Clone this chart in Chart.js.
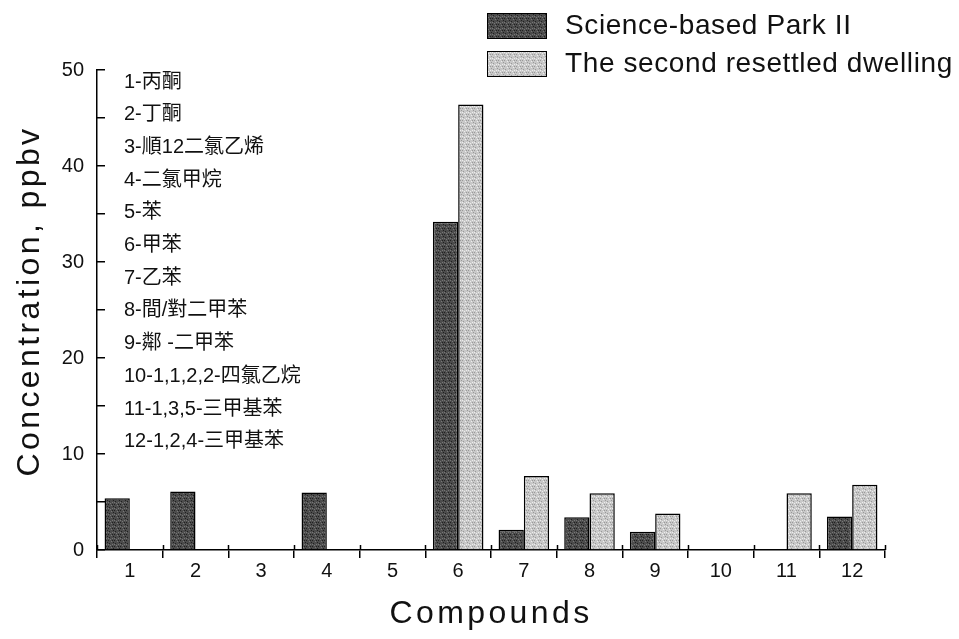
<!DOCTYPE html>
<html>
<head>
<meta charset="utf-8">
<script src="https://cdn.jsdelivr.net/npm/chart.js@4/dist/chart.umd.min.js"></script>
<style>
  html, body { margin: 0; padding: 0; background: #fff; }
  #wrap { width: 959px; height: 639px; }
</style>
</head>
<body>
<div id="wrap"><canvas id="chart" width="959" height="639"></canvas></div>
<script>
const categories = ['1', '2', '3', '4', '5', '6', '7', '8', '9', '10', '11', '12']
// null = not detected (no bar drawn)
const parkValues = [5.4, 6.1, null, 6.0, null, 34.2, 2.1, 3.4, 1.9, null, null, 3.5]
const dwellingValues = [null, null, null, null, null, 46.4, 7.7, 5.9, 3.8, null, 5.9, 6.8]
const seriesLabels = ['Science-based Park II', 'The second resettled dwelling']
const compoundNames = [
    '1-丙酮', '2-丁酮', '3-順12二氯乙烯', '4-二氯甲烷', '5-苯', '6-甲苯',
    '7-乙苯', '8-間/對二甲苯', '9-鄰 -二甲苯', '10-1,1,2,2-四氯乙烷',
    '11-1,3,5-三甲基苯', '12-1,2,4-三甲基苯'
]
const yTicks = [0, 10, 20, 30, 40, 50]
const xTitle = 'Compounds'
const yTitle = 'Concentration, ppbv'

const FONT = '"Liberation Sans", Arial, sans-serif'
const CJK_FONT = '"Liberation Sans", Arial, "Noto Sans CJK TC", sans-serif'

// speckled fill, like the scanned halftone
const makePattern = (base, spots) => {
    const c = document.createElement('canvas')
    c.width = 6
    c.height = 6
    const ctx = c.getContext('2d')
    ctx.fillStyle = base
    ctx.fillRect(0, 0, 6, 6)
    const dots = [[0, 0, 0], [3, 1, 1], [1, 3, 0], [4, 4, 1], [5, 2, 0], [2, 5, 1], [0, 4, 1], [4, 0, 0]]
    dots.forEach(([x, y, k]) => {
        ctx.fillStyle = spots[k]
        ctx.fillRect(x, y, 1, 1)
    })
    return ctx.createPattern(c, 'repeat')
}

const cvs = document.getElementById('chart')
const darkFill = makePattern('#4c4c4c', ['#202020', '#777777'])
const lightFill = makePattern('#c8c8c8', ['#999999', '#ededed'])

const legendPlugin = {
    id: 'boxLegend',
    afterDraw(chart) {
        const {ctx} = chart
        const x0 = chart.width - 472
        chart.data.datasets.forEach((ds, i) => {
            const y = 13 + i * 38
            ctx.save()
            ctx.fillStyle = ds.backgroundColor
            ctx.fillRect(x0, y, 60, 26)
            ctx.strokeStyle = '#000'
            ctx.lineWidth = 1
            ctx.strokeRect(x0 + 0.5, y + 0.5, 59, 25)
            ctx.fillStyle = '#111'
            ctx.font = '28px ' + FONT
            ctx.letterSpacing = '0.6px'
            ctx.textBaseline = 'middle'
            ctx.fillText(ds.label, x0 + 78, y + 13)
            ctx.restore()
        })
    }
}

const namesPlugin = {
    id: 'compoundNames',
    afterDraw(chart) {
        const {ctx, chartArea} = chart
        ctx.save()
        ctx.fillStyle = '#111'
        ctx.font = '20px ' + CJK_FONT
        ctx.textBaseline = 'middle'
        compoundNames.forEach((name, i) => {
            ctx.fillText(name, chartArea.left + 27, chartArea.top + 12 + i * 32.7)
        })
        ctx.restore()
    }
}

// axis titles (wide letter spacing) and the upward half of the x ticks
const axisExtras = {
    id: 'axisExtras',
    afterDraw(chart) {
        const {ctx, chartArea} = chart
        const xs = chart.scales.x
        ctx.save()
        ctx.strokeStyle = '#000'
        ctx.lineWidth = 1.5
        ctx.beginPath()
        for (let i = 0; i <= categories.length; i++) {
            const px = Math.round(xs.getPixelForValue(i - 0.5)) + 0.5
            ctx.moveTo(px, chartArea.bottom - 5)
            ctx.lineTo(px, chartArea.bottom)
        }
        ctx.stroke()

        ctx.fillStyle = '#111'
        ctx.font = '32px ' + FONT
        ctx.letterSpacing = '3.4px'
        ctx.textAlign = 'center'
        ctx.textBaseline = 'middle'
        ctx.fillText(xTitle, (chartArea.left + chartArea.right) / 2, 614)
        ctx.translate(30, (chartArea.top + chartArea.bottom) / 2 - 9)
        ctx.rotate(-Math.PI / 2)
        ctx.fillText(yTitle, 0, 0)
        ctx.restore()
    }
}

new Chart(cvs, {
    type: 'bar',
    data: {
        labels: categories,
        datasets: [
            {
                label: seriesLabels[0],
                data: parkValues,
                backgroundColor: darkFill,
                borderColor: '#000',
                borderWidth: 1.5
            },
            {
                label: seriesLabels[1],
                data: dwellingValues,
                backgroundColor: lightFill,
                borderColor: '#000',
                borderWidth: 1.5
            }
        ]
    },
    options: {
        responsive: false,
        animation: false,
        layout: {padding: {top: 70, right: 74, left: 0, bottom: 0}},
        datasets: {bar: {categoryPercentage: 0.77, barPercentage: 1}},
        plugins: {
            legend: {display: false},
            tooltip: {enabled: false}
        },
        scales: {
            x: {
                grid: {
                    offset: true,
                    drawOnChartArea: false,
                    color: '#000',
                    lineWidth: 1.5,
                    tickLength: 8
                },
                border: {display: true, color: '#000', width: 1.5},
                ticks: {
                    color: '#111',
                    font: {family: FONT, size: 20},
                    padding: 1,
                    maxRotation: 0
                },
                afterFit: (scale) => { scale.height = 89 }
            },
            y: {
                min: 0,
                max: 50,
                grid: {
                    drawOnChartArea: false,
                    color: '#000',
                    lineWidth: 1.5,
                    tickLength: -8
                },
                border: {display: true, color: '#000', width: 1.5},
                ticks: {
                    stepSize: 5,
                    color: '#111',
                    font: {family: FONT, size: 20},
                    padding: 21,
                    callback: (v) => yTicks.includes(v) ? String(v) : ''
                },
                afterFit: (scale) => { scale.width = 97 }
            }
        }
    },
    plugins: [legendPlugin, namesPlugin, axisExtras]
})
</script>
</body>
</html>
